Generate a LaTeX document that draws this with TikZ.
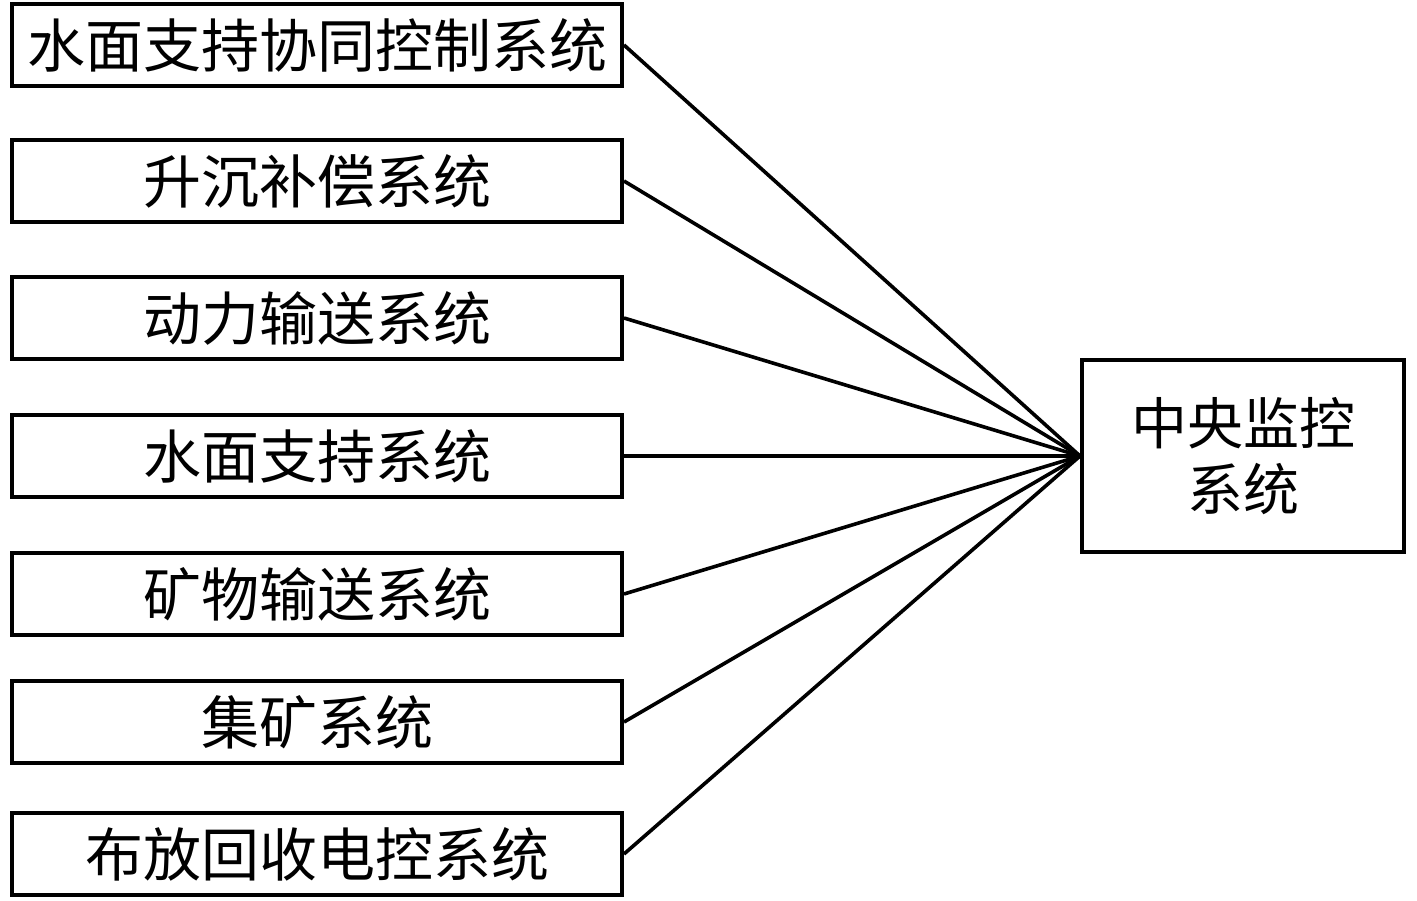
\documentclass[tikz,border=0pt]{standalone}
\usepackage{fontspec}
\newfontfamily\cjk{Noto Sans CJK SC}
\usetikzlibrary{positioning}

\tikzset{
    sysbox/.style={draw, line width=2pt, minimum width=305pt, minimum height=41pt,
        inner sep=0pt, font=\cjk\fontsize{29}{34}\selectfont},
    link/.style={line width=1.8pt}
}

\begin{document}
\begin{tikzpicture}[x=0.5pt, y=-0.5pt]
    \useasboundingbox (0,0) rectangle (1417,900);

    % Subsystems
    \node[sysbox] (s1) at (317,45) {水面支持协同控制系统};
    \node[sysbox] (s2) at (317,181) {升沉补偿系统};
    \node[sysbox] (s3) at (317,318) {动力输送系统};
    \node[sysbox] (s4) at (317,456) {水面支持系统};
    \node[sysbox] (s5) at (317,594) {矿物输送系统};
    \node[sysbox] (s6) at (317,722) {集矿系统};
    \node[sysbox] (s7) at (317,854) {布放回收电控系统};

    % Central monitoring
    \node[draw, line width=2pt, minimum width=161pt, minimum height=96pt,
        align=center, font=\cjk\fontsize{28}{33}\selectfont] (center) at (1243,456)
        {中央监控\\系统};

    % Links
    \draw[link] (s1.east) -- (center.west);
    \draw[link] (s2.east) -- (center.west);
    \draw[link] (s3.east) -- (center.west);
    \draw[link] (s4.east) -- (center.west);
    \draw[link] (s5.east) -- (center.west);
    \draw[link] (s6.east) -- (center.west);
    \draw[link] (s7.east) -- (center.west);
\end{tikzpicture}
\end{document}
